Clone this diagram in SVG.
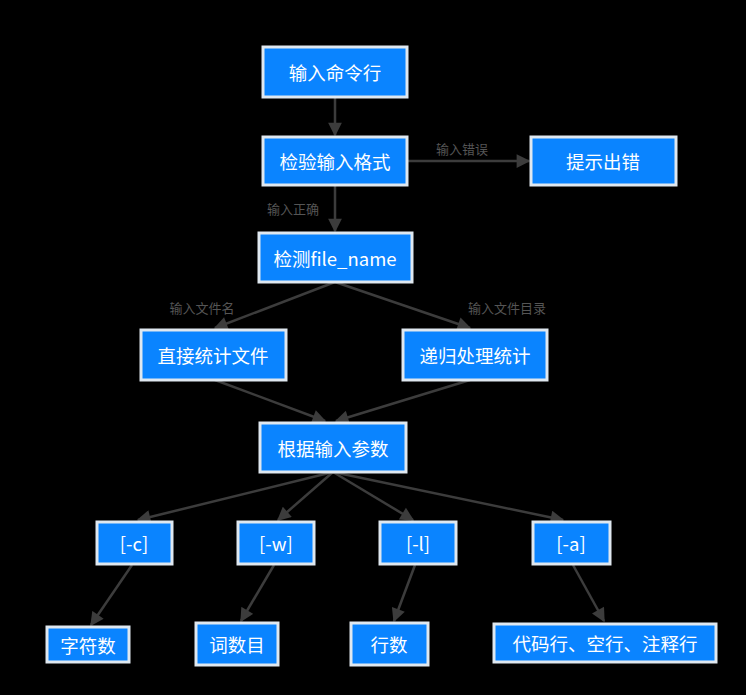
<svg xmlns="http://www.w3.org/2000/svg" width="746" height="695" viewBox="0 0 746 695">
<defs>
<style>
.box{fill:#0a84ff;stroke:#dfe8f0;stroke-width:3}
.t{font-family:"Noto Sans CJK SC","Microsoft YaHei",sans-serif;font-size:18.5px;fill:#ffffff;text-anchor:middle;dominant-baseline:central}
.lbl{font-family:"Noto Sans CJK SC",sans-serif;font-size:13px;fill:#555555;text-anchor:middle;dominant-baseline:central}
.c{stroke:#3c3c3c;stroke-width:2.5;fill:none;marker-end:url(#ah)}
</style>
<marker id="ah" viewBox="0 0 10 10" refX="9" refY="5" markerWidth="6" markerHeight="5.5" orient="auto" markerUnits="strokeWidth">
<path d="M0,0 L10,5 L0,10 Z" fill="#3c3c3c"/>
</marker>
</defs>
<rect x="0" y="0" width="746" height="695" fill="#000000"/>
<g id="connectors">
<line class="c" x1="335" y1="98" x2="335" y2="135"/>
<line class="c" x1="407" y1="161" x2="529" y2="161"/>
<line class="c" x1="335" y1="186" x2="335" y2="231"/>
<line class="c" x1="335" y1="282" x2="215" y2="328"/>
<line class="c" x1="335" y1="282" x2="470" y2="328"/>
<line class="c" x1="215" y1="380" x2="325" y2="421"/>
<line class="c" x1="470" y1="380" x2="336" y2="421"/>
<line class="c" x1="333" y1="472" x2="138" y2="520"/>
<line class="c" x1="333" y1="472" x2="278" y2="520"/>
<line class="c" x1="333" y1="472" x2="413" y2="520"/>
<line class="c" x1="333" y1="472" x2="563" y2="520"/>
<line class="c" x1="132" y1="565" x2="91" y2="625"/>
<line class="c" x1="274" y1="565" x2="241" y2="621"/>
<line class="c" x1="415" y1="565" x2="394" y2="621"/>
<line class="c" x1="573" y1="565" x2="604" y2="621"/>
<text class="lbl" x="462" y="148">输入错误</text>
<text class="lbl" x="293" y="208">输入正确</text>
<text class="lbl" x="202" y="307">输入文件名</text>
<text class="lbl" x="507" y="307">输入文件目录</text>
</g>
<g id="n1"><rect class="box" x="263" y="47" width="144" height="50"/><text class="t" x="335" y="72">输入命令行</text></g>
<g id="n2"><rect class="box" x="263" y="137" width="144" height="48"/><text class="t" x="335" y="161">检验输入格式</text></g>
<g id="n3"><rect class="box" x="531" y="137" width="145" height="48"/><text class="t" x="603" y="161">提示出错</text></g>
<g id="n4"><rect class="box" x="259" y="233" width="153" height="49"/><text class="t" x="335" y="258">检测file_name</text></g>
<g id="n5"><rect class="box" x="141" y="330" width="145" height="50"/><text class="t" x="213" y="355">直接统计文件</text></g>
<g id="n6"><rect class="box" x="403" y="330" width="144" height="50"/><text class="t" x="475" y="355">递归处理统计</text></g>
<g id="n7"><rect class="box" x="260" y="423" width="146" height="49"/><text class="t" x="333" y="448">根据输入参数</text></g>
<g id="n8"><rect class="box" x="97" y="522" width="75" height="42"/><text class="t" x="134" y="543">[-c]</text></g>
<g id="n9"><rect class="box" x="238" y="522" width="76" height="42"/><text class="t" x="276" y="543">[-w]</text></g>
<g id="n10"><rect class="box" x="380" y="522" width="76" height="42"/><text class="t" x="418" y="543">[-l]</text></g>
<g id="n11"><rect class="box" x="533" y="522" width="77" height="42"/><text class="t" x="571" y="543">[-a]</text></g>
<g id="n12"><rect class="box" x="47" y="627" width="82" height="35"/><text class="t" x="88" y="645">字符数</text></g>
<g id="n13"><rect class="box" x="196" y="623" width="82" height="42"/><text class="t" x="237" y="644">词数目</text></g>
<g id="n14"><rect class="box" x="351" y="623" width="77" height="42"/><text class="t" x="389" y="644">行数</text></g>
<g id="n15"><rect class="box" x="494" y="624" width="222" height="38"/><text class="t" x="605" y="643">代码行、空行、注释行</text></g>
</svg>
